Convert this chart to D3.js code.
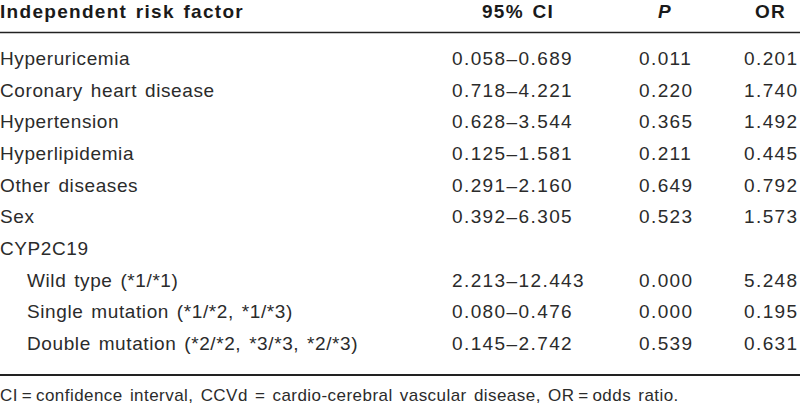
<!DOCTYPE html>
<html>
<head>
<meta charset="utf-8">
<script src="https://cdn.jsdelivr.net/npm/d3@7"></script>
<style>
  html, body { margin: 0; padding: 0; background: #fff; }
  svg { display: block; }
  text { font-family: "Liberation Sans", Arial, sans-serif; }
</style>
</head>
<body>
<svg id="chart" width="800" height="413"></svg>
<script>
// ---- data ----
const headers = ["Independent risk factor", "95% CI", "P", "OR"];
const factors = [
  "Hyperuricemia",
  "Coronary heart disease",
  "Hypertension",
  "Hyperlipidemia",
  "Other diseases",
  "Sex",
  "CYP2C19",
  "Wild type (*1/*1)",
  "Single mutation (*1/*2, *1/*3)",
  "Double mutation (*2/*2, *3/*3, *2/*3)"
];
const levels = [0, 0, 0, 0, 0, 0, 0, 1, 1, 1];
const ciLow  = ["0.058", "0.718", "0.628", "0.125", "0.291", "0.392", null, "2.213", "0.080", "0.145"];
const ciHigh = ["0.689", "4.221", "3.544", "1.581", "2.160", "6.305", null, "12.443", "0.476", "2.742"];
const pValues = ["0.011", "0.220", "0.365", "0.211", "0.649", "0.523", null, "0.000", "0.000", "0.539"];
const orValues = ["0.201", "1.740", "1.492", "0.445", "0.792", "1.573", null, "5.248", "0.195", "0.631"];
const footnote = "CI\u2009=\u2009confidence interval, CCVd = cardio-cerebral vascular disease, OR\u2009=\u2009odds ratio.";

// ---- layout ----
const W = 800, H = 413;
const svg = d3.select("#chart");

const y = d3.scalePoint().domain(d3.range(factors.length)).range([65, 350]);
const colX = d3.scaleOrdinal().domain(["name", "ci", "p", "or"]).range([0, 452, 639, 744]);
const headX = d3.scaleOrdinal().domain(headers).range([0, 482, 658, 755]);
const indent = d3.scaleOrdinal().domain([0, 1]).range([0, 27]);

const bodyColor = "#2b2b2b";
const fs = 19;

// header
svg.append("g").selectAll("text").data(headers).join("text")
  .attr("x", d => headX(d))
  .attr("y", 18)
  .attr("font-size", fs)
  .attr("font-weight", "bold")
  .attr("font-style", d => d === "P" ? "italic" : "normal")
  .attr("letter-spacing", 1.3)
  .attr("word-spacing", 2)
  .attr("fill", "#1a1a1a")
  .text(d => d);

// rules
svg.append("line").attr("x1", 0).attr("x2", W).attr("y1", 32.5).attr("y2", 32.5)
  .attr("stroke", "#222").attr("stroke-width", 1.4);
svg.append("line").attr("x1", 0).attr("x2", W).attr("y1", 375).attr("y2", 375)
  .attr("stroke", "#222").attr("stroke-width", 2);

const rows = factors.map((f, i) => ({
  name: f, level: levels[i],
  ci: ciLow[i] ? ciLow[i] + "\u2013" + ciHigh[i] : "",
  p: pValues[i] || "", or: orValues[i] || ""
}));

const g = svg.append("g");
const rowG = g.selectAll("g.row").data(rows).join("g")
  .attr("class", "row")
  .attr("transform", (d, i) => `translate(0,${y(i)})`);

rowG.append("text")
  .attr("x", d => colX("name") + indent(d.level))
  .attr("font-size", fs)
  .attr("letter-spacing", 0.6)
  .attr("word-spacing", 2)
  .attr("fill", bodyColor)
  .text(d => d.name);

["ci", "p", "or"].forEach(k => {
  rowG.append("text")
    .attr("x", colX(k))
    .attr("font-size", fs)
    .attr("letter-spacing", 1.4)
    .attr("fill", bodyColor)
    .text(d => d[k]);
});

// footnote
svg.append("text")
  .attr("x", 0).attr("y", 401)
  .attr("font-size", 17)
  .attr("letter-spacing", 0.45)
  .attr("word-spacing", 2)
  .attr("fill", bodyColor)
  .text(footnote);
</script>
</body>
</html>
